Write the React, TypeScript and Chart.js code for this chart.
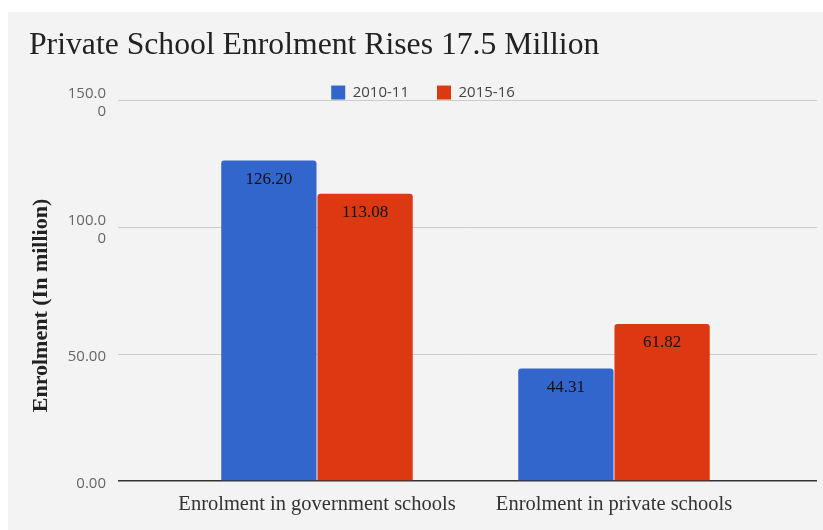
import { useEffect, useRef } from "react";
import { Chart, registerables } from "chart.js";

Chart.register(...registerables);

const titleText = "Private School Enrolment Rises 17.5 Million";
const yAxisTitle = "Enrolment (In million)";
const categories = ["Enrolment in government schools", "Enrolment in private schools"];
const seriesNames = ["2010-11", "2015-16"];
const values2010 = [126.2, 44.31];
const values2015 = [113.08, 61.82];
const seriesColors = ["#3366cc", "#dc3912"];
const yTickValues = [0, 50, 100, 150];
const yTickLabels = [["0.00"], ["50.00"], ["100.0", "0"], ["150.0", "0"]];

const SERIF = "'Liberation Serif', 'Times New Roman', serif";
const SANS = "'Open Sans', 'DejaVu Sans', sans-serif";

export default function App() {
  const ref = useRef<HTMLCanvasElement>(null);

  useEffect(() => {
    const canvas = ref.current;
    if (!canvas) return;

    const valueLabels = {
      id: "valueLabels",
      afterDatasetsDraw(chart: any) {
        const ctx = chart.ctx;
        ctx.save();
        ctx.font = `17px ${SERIF}`;
        ctx.fillStyle = "#111111";
        ctx.textAlign = "center";
        ctx.textBaseline = "middle";
        chart.data.datasets.forEach((ds: any, di: number) => {
          const meta = chart.getDatasetMeta(di);
          meta.data.forEach((el: any, i: number) => {
            const v = ds.data[i].y as number;
            ctx.fillText(v.toFixed(2), el.x, el.y + 19);
          });
        });
        ctx.restore();
      },
    };

    const yTitle = {
      id: "yTitle",
      afterDraw(chart: any) {
        const ctx = chart.ctx;
        const area = chart.chartArea;
        ctx.save();
        ctx.translate(33, (area.top + area.bottom) / 2 + 15);
        ctx.rotate(-Math.PI / 2);
        ctx.font = `bold 22px ${SERIF}`;
        ctx.fillStyle = "#222222";
        ctx.textAlign = "center";
        ctx.textBaseline = "middle";
        ctx.fillText(yAxisTitle, 0, 0);
        ctx.restore();
      },
    };

    const legendShift = {
      id: "legendShift",
      afterLayout(chart: any) {
        const l = chart.legend;
        if (l) {
          l.top += 10;
          l.bottom += 10;
        }
      },
    };

    const seriesValues = [values2010, values2015];

    const chart = new Chart(canvas, {
      type: "bar",
      data: {
        datasets: seriesNames.map((name, si) => ({
          label: name,
          data: seriesValues[si].map((v, i) => ({ x: i, y: v })),
          backgroundColor: seriesColors[si],
          borderRadius: 3,
          categoryPercentage: 0.648,
          barPercentage: 0.99,
        })),
      },
      options: {
        animation: false,
        responsive: true,
        maintainAspectRatio: false,
        layout: { padding: { left: 21, right: 6, top: 0, bottom: 0 } },
        plugins: {
          title: {
            display: true,
            text: titleText,
            align: "start",
            color: "#222222",
            font: { family: SERIF, size: 31.7, weight: "normal", lineHeight: 1.2 },
            padding: { top: 15, bottom: -18 },
          },
          legend: {
            display: true,
            position: "top",
            align: "center",
            labels: {
              boxWidth: 14,
              boxHeight: 14,
              padding: 28,
              color: "#444444",
              font: { family: SANS, size: 15 },
            },
          },
          tooltip: { enabled: false },
        },
        scales: {
          x: {
            type: "linear",
            offset: false,
            min: -0.67,
            max: 1.6835,
            grid: { display: false },
            border: { display: false },
            afterBuildTicks: (axis: any) => {
              axis.ticks = categories.map((_, i) => ({ value: i }));
            },
            afterFit: (scale: any) => {
              scale.height = 49;
            },
            ticks: {
              autoSkip: false,
              maxRotation: 0,
              padding: 3,
              color: "#333333",
              font: { family: SERIF, size: 20.5 },
              callback: (value: any) => categories[Number(value)] ?? "",
            },
          },
          y: {
            min: 0,
            max: 150,
            afterBuildTicks: (axis: any) => {
              axis.ticks = yTickValues.map((v) => ({ value: v }));
            },
            afterFit: (scale: any) => {
              scale.width = 89;
            },
            border: { display: false },
            grid: {
              drawTicks: false,
              color: (c: any) => (c.tick && c.tick.value === 0 ? "#333333" : "#cccccc"),
              lineWidth: (c: any) => (c.tick && c.tick.value === 0 ? 1.5 : 1),
            },
            ticks: {
              padding: 12,
              labelOffset: 3,
              color: "#666666",
              font: { family: SANS, size: 15, lineHeight: 1.2 },
              callback: (_v: any, index: number) => yTickLabels[index],
            },
            title: { display: false },
          },
        },
      },
      plugins: [valueLabels, legendShift, yTitle],
    } as any);

    return () => chart.destroy();
  }, []);

  return (
    <div
      style={{
        position: "fixed",
        left: 8,
        top: 12,
        width: 815,
        height: 518,
        background: "#f3f3f3",
      }}
    >
      <canvas ref={ref} />
    </div>
  );
}
